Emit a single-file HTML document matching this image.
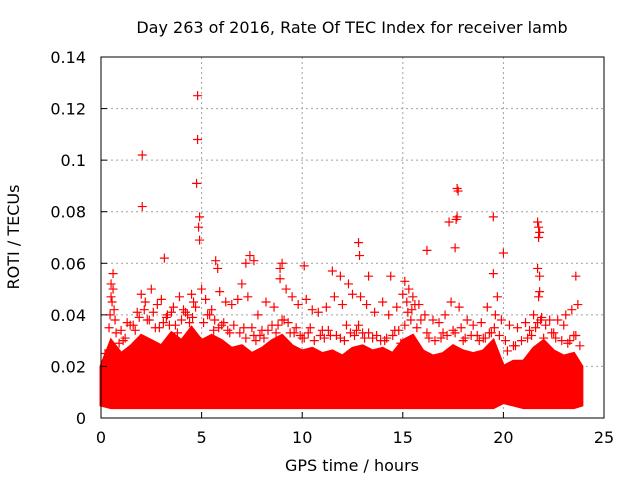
<!DOCTYPE html>
<html><head><meta charset="utf-8"><style>
body{margin:0;background:#fff}
svg text{font-family:"DejaVu Sans","Liberation Sans",sans-serif;font-size:16px;fill:#000}
</style></head><body>
<svg id="c" width="640" height="480">
<text x="352" y="33" text-anchor="middle">Day 263 of 2016, Rate Of TEC Index for receiver lamb</text>
<text x="352" y="471" text-anchor="middle">GPS time / hours</text>
<text transform="translate(19,237) rotate(-90)" text-anchor="middle">ROTI / TECUs</text>
<g id="grid"></g><g id="marks"></g><g id="axes"></g>
</svg>
<script>
const xTicks=[0,5,10,15,20,25];
const yTicks=[0,0.02,0.04,0.06,0.08,0.1,0.12,0.14];
const yTickLabels=["0","0.02","0.04","0.06","0.08","0.1","0.12","0.14"];
const bandHours=[0,0.5,1,1.5,2,2.5,3,3.5,4,4.5,5,5.5,6,6.5,7,7.5,8,8.5,9,9.5,10,10.5,11,11.5,12,12.5,13,13.5,14,14.5,15,15.5,16,16.5,17,17.5,18,18.5,19,19.5,20,20.5,21,21.5,22,22.5,23,23.5,23.9];
const bandLow=[0.005,0.004,0.004,0.004,0.004,0.004,0.004,0.004,0.004,0.004,0.004,0.004,0.004,0.004,0.004,0.004,0.004,0.004,0.004,0.004,0.004,0.004,0.004,0.004,0.004,0.004,0.004,0.004,0.004,0.004,0.004,0.004,0.004,0.004,0.004,0.004,0.004,0.004,0.004,0.004,0.006,0.005,0.004,0.004,0.004,0.004,0.004,0.004,0.005];
const bandHigh=[0.02,0.03,0.025,0.028,0.032,0.03,0.028,0.033,0.03,0.035,0.03,0.032,0.03,0.027,0.028,0.025,0.027,0.03,0.032,0.028,0.026,0.027,0.025,0.026,0.024,0.027,0.028,0.026,0.027,0.025,0.03,0.032,0.026,0.024,0.025,0.028,0.026,0.025,0.026,0.03,0.02,0.022,0.022,0.027,0.03,0.026,0.024,0.025,0.02];
const ptTimes=[4.8,4.8,4.75,2.05,2.05,4.9,4.85,4.9,3.15,17.7,17.75,17.7,17.65,17.6,17.3,19.5,20,21.7,21.75,21.8,21.75,21.7,21.8,21.8,21.75,23.6,12.8,12.85,16.2,7.4,7.6,7.2,10.1,9,11.5,14.4,13.3,0.6,0.5,5.7,5.8,19.5,19.7,15.1,15.3,8.9,11.9,12.3,
0.5,0.55,0.6,0.65,0.7,1.0,1.3,1.8,2.0,2.2,2.5,2.8,3.0,3.3,3.6,3.9,4.2,4.5,4.6,5.0,5.2,5.5,5.9,6.2,6.5,6.8,7.0,7.3,7.8,8.2,8.6,8.9,9.2,9.5,9.8,10.2,10.5,10.8,11.2,11.6,12.0,12.5,12.9,13.2,13.6,14.0,14.3,14.7,15.0,15.2,15.5,15.8,16.1,16.5,16.8,17.1,17.4,17.8,18.2,18.5,18.9,19.2,19.6,19.9,20.3,20.7,21.1,21.5,21.9,22.3,22.7,23.1,23.4,23.7,
0.4,1.1,1.6,2.3,2.7,3.4,3.8,4.4,5.3,5.6,6.0,6.4,7.1,7.6,8.0,8.8,9.1,9.6,10.0,10.4,11.0,11.4,12.2,12.7,13.0,13.5,14.1,14.6,15.1,15.4,15.7,16.3,17.0,17.5,18.0,18.7,19.1,19.4,20.1,20.5,21.3,21.7,22.0,22.5,23.0,23.5,
0.2,0.45,0.75,0.9,1.2,1.45,1.7,1.9,2.15,2.4,2.6,2.9,3.1,3.25,3.5,3.7,4.0,4.1,4.3,4.55,4.7,5.1,5.4,5.65,5.85,6.1,6.3,6.6,6.9,7.2,7.5,7.7,7.9,8.1,8.3,8.5,8.7,9.0,9.3,9.4,9.7,9.9,10.1,10.3,10.6,10.9,11.1,11.3,11.7,11.9,12.1,12.4,12.6,12.8,13.1,13.3,13.7,13.9,14.2,14.5,14.8,14.9,15.25,15.45,15.6,15.9,16.2,16.6,16.9,17.2,17.6,17.9,18.1,18.4,18.8,19.0,19.3,19.55,19.8,20.2,20.6,20.9,21.2,21.4,21.6,21.85,22.1,22.4,22.6,22.9,23.2,23.3,23.6,23.8];
const ptValues=[0.125,0.108,0.091,0.102,0.082,0.078,0.074,0.069,0.062,0.089,0.088,0.078,0.077,0.066,0.076,0.078,0.064,0.076,0.074,0.072,0.070,0.058,0.055,0.049,0.047,0.055,0.068,0.063,0.065,0.063,0.061,0.060,0.059,0.060,0.057,0.055,0.055,0.056,0.052,0.061,0.058,0.056,0.047,0.053,0.050,0.058,0.055,0.052,
0.047,0.045,0.050,0.042,0.038,0.034,0.037,0.041,0.048,0.045,0.050,0.044,0.046,0.040,0.043,0.047,0.041,0.048,0.045,0.050,0.046,0.042,0.049,0.045,0.044,0.046,0.052,0.047,0.040,0.045,0.043,0.054,0.050,0.047,0.044,0.046,0.042,0.041,0.043,0.047,0.044,0.048,0.047,0.044,0.041,0.045,0.040,0.043,0.048,0.045,0.047,0.044,0.040,0.038,0.037,0.040,0.045,0.043,0.038,0.036,0.037,0.043,0.040,0.038,0.036,0.035,0.037,0.040,0.039,0.038,0.038,0.040,0.042,0.044,
0.035,0.030,0.036,0.038,0.035,0.036,0.033,0.037,0.040,0.034,0.036,0.033,0.035,0.032,0.034,0.036,0.038,0.033,0.031,0.035,0.034,0.032,0.036,0.034,0.033,0.031,0.030,0.034,0.036,0.038,0.035,0.031,0.033,0.034,0.030,0.032,0.031,0.033,0.030,0.028,0.034,0.037,0.031,0.033,0.036,0.032,
0.025,0.040,0.033,0.029,0.031,0.036,0.034,0.039,0.042,0.038,0.041,0.035,0.037,0.039,0.041,0.036,0.038,0.042,0.040,0.039,0.043,0.037,0.040,0.038,0.035,0.037,0.034,0.036,0.033,0.031,0.035,0.030,0.032,0.031,0.034,0.036,0.033,0.038,0.037,0.033,0.035,0.032,0.031,0.033,0.030,0.032,0.031,0.034,0.032,0.031,0.030,0.033,0.032,0.036,0.031,0.033,0.032,0.030,0.031,0.032,0.034,0.029,0.041,0.042,0.044,0.038,0.033,0.030,0.031,0.032,0.033,0.035,0.031,0.032,0.030,0.031,0.033,0.035,0.032,0.026,0.028,0.030,0.031,0.032,0.035,0.038,0.036,0.033,0.031,0.030,0.029,0.030,0.032,0.028];
const NS='http://www.w3.org/2000/svg';
const X0=101,X1=604,Y0=418,Y1=57;
const xs=t=>X0+t/25*(X1-X0), ys=v=>Y0-v/0.14*(Y0-Y1);
function mk(tag,attrs,parent){const e=document.createElementNS(NS,tag);for(const k in attrs)e.setAttribute(k,attrs[k]);parent.appendChild(e);return e;}
const grid=document.getElementById('grid'),axes=document.getElementById('axes'),marks=document.getElementById('marks');
xTicks.forEach((t,i)=>{
 if(i>0&&i<xTicks.length-1){const g=mk('line',{x1:xs(t),x2:xs(t),y1:Y1,y2:Y0,stroke:'#a0a0a0','stroke-dasharray':'2,3'},grid);
 
 }
 const tk=mk('line',{x1:xs(t),x2:xs(t),y1:Y0,y2:Y0-6,stroke:'#000'},axes);
 
 
 const tx=mk('text',{x:xs(t),y:Y0+25,'text-anchor':'middle'},axes);tx.textContent=t;
 
 
});
yTicks.forEach((v,i)=>{
 if(i>0&&i<yTicks.length-1){const g=mk('line',{x1:X0,x2:X1,y1:ys(v),y2:ys(v),stroke:'#a0a0a0','stroke-dasharray':'2,3'},grid);
 
 }
 const tk=mk('line',{x1:X0,x2:X0+6,y1:ys(v),y2:ys(v),stroke:'#000'},axes);
 
 
 const tx=mk('text',{x:X0-15,y:ys(v)+6,'text-anchor':'end'},axes);tx.textContent=yTickLabels[i];
 
 
});
const fr=mk('rect',{x:X0,y:Y1,width:X1-X0,height:Y0-Y1,fill:'none',stroke:'#000'},axes);


let d='M'+bandHours.map((h,i)=>xs(h)+','+ys(bandHigh[i])).join(' L');
for(let i=bandHours.length-1;i>=0;i--)d+=' L'+xs(bandHours[i])+','+ys(bandLow[i]);
const band=mk('path',{d:d+'Z',fill:'#f00',stroke:'#f00','stroke-width':3,'stroke-linejoin':'miter'},marks);


ptTimes.forEach((t,i)=>{
 const x=xs(t),y=ys(ptValues[i]);
 const p=mk('path',{d:`M${x-4.5},${y}h9M${x},${y-4.5}v9`,stroke:'#f00','stroke-width':1.2},marks);
 
 
});
</script>
</body></html>
